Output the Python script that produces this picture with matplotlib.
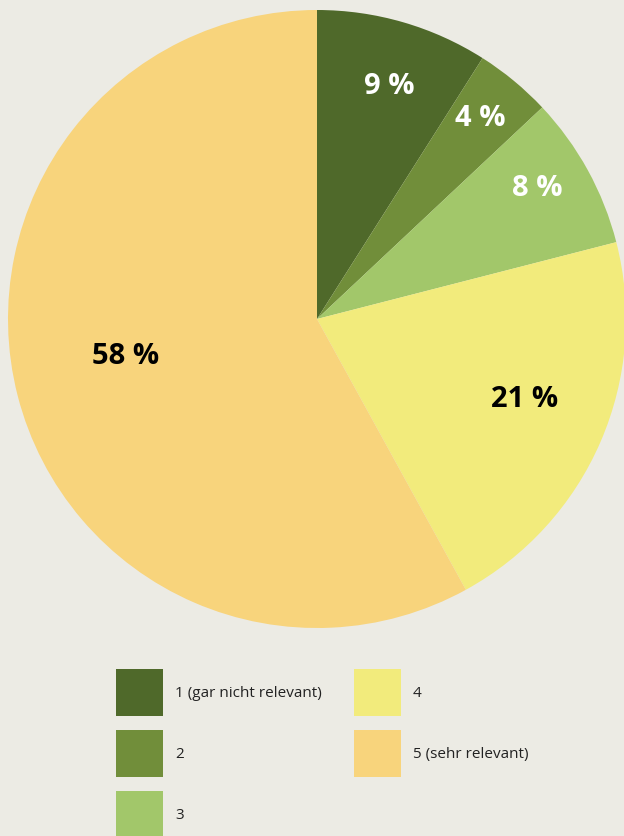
import numpy as np
import matplotlib
matplotlib.use("Agg")
import matplotlib.pyplot as plt
from matplotlib.patches import Patch

plt.rcParams['font.family'] = ['Open Sans', 'DejaVu Sans']

categories = ['1 (gar nicht relevant)', '2', '3', '4', '5 (sehr relevant)']
shares = [9, 4, 8, 21, 58]
colors = ['#4f692a', '#718e3a', '#a2c76a', '#f2eb7c', '#f8d47c']
label_colors = ['white', 'white', 'white', 'black', 'black']
# radial position of each percentage label (fraction of radius)
label_r = [0.79, 0.84, 0.83, 0.72, 0.63]
label_shift = [-1.0, 0.5, 2.0, 2.5, -3.5]  # degrees

W, H = 624, 837
fig = plt.figure(figsize=(W / 100, H / 100), dpi=100)
fig.patch.set_facecolor('#ecebe4')

cx, cy, R = 317, 320, 309
ax = fig.add_axes([(cx - R) / W, (H - cy - R) / H, 2 * R / W, 2 * R / H])
ax.set_facecolor('none')
wedges, _ = ax.pie(shares, colors=colors, startangle=90, counterclock=False,
                   radius=1, wedgeprops=dict(linewidth=0))
ax.set_xlim(-1, 1)
ax.set_ylim(-1, 1)
ax.set_aspect('equal')
ax.axis('off')

for w, v, c, r, d in zip(wedges, shares, label_colors, label_r, label_shift):
    ang = np.deg2rad((w.theta1 + w.theta2) / 2 + d)
    ax.text(r * np.cos(ang), r * np.sin(ang), f'{v} %', ha='center', va='center',
            fontsize=21, fontweight='bold', color=c)

handles = [Patch(facecolor=c, edgecolor='none') for c in colors]
fs = 11
px = fs * 100 / 72
leg = fig.legend(handles, categories, ncol=2, frameon=False, fontsize=fs,
                 loc='upper left', bbox_to_anchor=(116 / W, 1 - 670 / H),
                 borderaxespad=0, borderpad=0,
                 handlelength=47 / px, handleheight=48 / px * 47 / 34,
                 handletextpad=12 / px, labelspacing=14 / px,
                 columnspacing=32 / px, labelcolor='#222222')

fig.savefig('out.png', dpi=100, facecolor=fig.get_facecolor())
